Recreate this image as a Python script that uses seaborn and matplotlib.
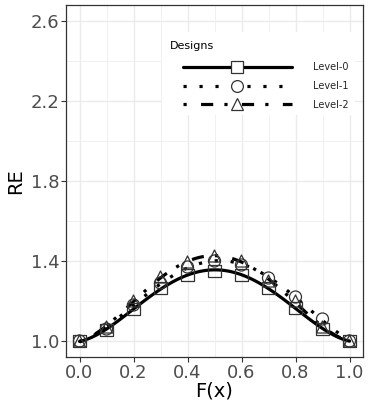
import numpy as np
import pandas as pd
import matplotlib
matplotlib.use("Agg")
import matplotlib.pyplot as plt
import seaborn as sns
from matplotlib.lines import Line2D
from matplotlib.patches import Rectangle

fx = [0.0, 0.1, 0.2, 0.3, 0.4, 0.5, 0.6, 0.7, 0.8, 0.9, 1.0]
level0 = [1.0, 1.055, 1.16, 1.265, 1.33, 1.35, 1.33, 1.265, 1.165, 1.06, 1.0]
level1 = [1.0, 1.06, 1.18, 1.29, 1.37, 1.40, 1.38, 1.315, 1.22, 1.11, 1.0]
level2 = [1.0, 1.07, 1.20, 1.32, 1.395, 1.425, 1.40, 1.30, 1.20, 1.07, 1.0]
designs = ["Level-0", "Level-1", "Level-2"]
xticks = [0.0, 0.2, 0.4, 0.6, 0.8, 1.0]
yticks = [1.0, 1.4, 1.8, 2.2, 2.6]

df = pd.DataFrame({
    "F(x)": fx * 3,
    "RE": level0 + level1 + level2,
    "Designs": [d for d in designs for _ in fx],
})

sns.set_theme(style="white")
plt.rcParams["font.family"] = ["DejaVu Sans"]

fig = plt.figure(figsize=(3.71, 4.09), dpi=100)
ax = fig.add_axes([66 / 371, 52 / 409, 297 / 371, 352 / 409])

styles = {
    "Level-0": dict(ls="-", marker="s"),
    "Level-1": dict(ls=(0, (1, 4)), marker="o"),
    "Level-2": dict(ls=(0, (1, 4.5, 3.8, 3.5)), marker="^"),
}
lw = 2.3
for d in designs:
    sub = df[df["Designs"] == d]
    sns.regplot(data=sub, x="F(x)", y="RE", order=4, ci=None, scatter=False,
                ax=ax, truncate=True,
                line_kws=dict(color="black", lw=lw, ls=styles[d]["ls"], zorder=3))
for d in designs:
    sub = df[df["Designs"] == d]
    sns.scatterplot(data=sub, x="F(x)", y="RE", ax=ax, marker=styles[d]["marker"],
                    s=75, facecolor="none", edgecolor="#333333", linewidth=0.9,
                    zorder=4, legend=False)

ax.set_xlim(-0.05, 1.05)
ax.set_ylim(0.92, 2.68)
ax.set_xticks(xticks)
ax.set_xticks([0.1, 0.3, 0.5, 0.7, 0.9], minor=True)
ax.set_yticks(yticks)
ax.set_yticks([1.2, 1.6, 2.0, 2.4], minor=True)
ax.set_xticklabels([f"{v:.1f}" for v in xticks])
ax.set_yticklabels([f"{v:.1f}" for v in yticks])
ax.grid(True, which="major", color="#EBEBEB", lw=1.0, zorder=0)
ax.grid(True, which="minor", color="#F0F0F0", lw=0.7, zorder=0)
ax.set_axisbelow(True)
for s in ax.spines.values():
    s.set_color("#333333")
    s.set_linewidth(0.9)
ax.tick_params(which="major", length=3.3, width=0.8, color="#333333",
               labelsize=13, labelcolor="#4D4D4D", pad=1.5, bottom=True, left=True)
ax.tick_params(which="minor", length=0)
ax.set_xlabel("F(x)", fontsize=14, color="black", labelpad=0)
ax.set_ylabel("RE", fontsize=14, color="black", labelpad=4)

# legend background box and title
ax.add_patch(Rectangle((0.323, 0.6875), 0.650, 0.2355, transform=ax.transAxes,
                       facecolor="white", edgecolor="none", zorder=5))
ax.text(0.350, 0.883, "Designs", transform=ax.transAxes, fontsize=8,
        va="center", ha="left", color="black", zorder=6)

handles = [Line2D([0], [0], color="black", lw=lw, ls=styles[d]["ls"],
                  marker=styles[d]["marker"], markersize=8.5,
                  markerfacecolor="white", markeredgecolor="#333333",
                  markeredgewidth=0.9) for d in designs]
leg = ax.legend(handles, designs, loc="upper left",
                bbox_to_anchor=(0.394, 0.837), frameon=False, fontsize=7,
                handlelength=11.2, handletextpad=2.2,
                labelspacing=0.9, borderpad=0, borderaxespad=0,
                numpoints=1)
leg.set_zorder(7)

fig.savefig("out.png", dpi=100)
